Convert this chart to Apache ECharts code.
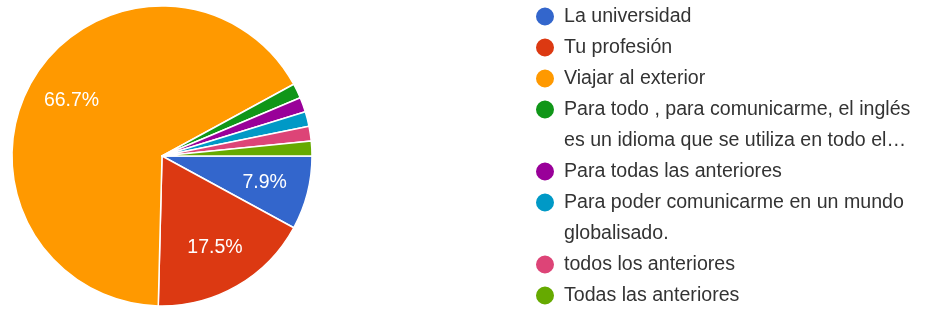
<!DOCTYPE html>
<html>
<head>
<meta charset="utf-8">
<script src="https://cdn.jsdelivr.net/npm/echarts@6/dist/echarts.min.js"></script>
<style>
  html, body { margin: 0; padding: 0; background: #fff; }
  #chart { width: 925px; height: 309px; }
</style>
</head>
<body>
<div id="chart"></div>
<script>
// respuestas (conteos), 63 en total
const categorias = [
  'La universidad',
  'Tu profesión',
  'Viajar al exterior',
  'Para todo , para comunicarme, el inglés\nes un idioma que se utiliza en todo el…',
  'Para todas las anteriores',
  'Para poder comunicarme en un mundo\nglobalisado.',
  'todos los anteriores',
  'Todas las anteriores'
]
const respuestas = [5, 11, 42, 1, 1, 1, 1, 1]
const colores = ['#3366cc', '#dc3912', '#ff9900', '#109618', '#990099', '#0099c6', '#dd4477', '#66aa00']

const chart = echarts.init(document.getElementById('chart'))

const fuente = '"Liberation Sans", Arial, sans-serif'
const lineaAlto = 31

// una leyenda por elemento, para que el circulo quede en la primera linea
let linea = 0
const leyendas = categorias.map((nombre) => {
  const lineas = nombre.split('\n').length
  const centro = 16.5 + linea * lineaAlto
  linea += lineas
  const extra = (lineas - 1) * lineaAlto
  return {
    data: [nombre],
    left: 534,
    top: centro - lineaAlto / 2 - extra,
    padding: 0,
    orient: 'vertical',
    icon: 'circle',
    itemWidth: 20,
    itemHeight: 20,
    selectedMode: false,
    // lineas en blanco arriba para que el texto empiece a la altura del circulo
    formatter: (n) => '\n'.repeat(lineas - 1) + n,
    textStyle: {
      fontFamily: fuente,
      fontSize: 19.6,
      color: '#333',
      lineHeight: lineaAlto,
      padding: [0, 0, 0, 4]
    }
  }
})

const datos = categorias.map((c, i) => ({ name: c, value: respuestas[i], itemStyle: { color: colores[i] } }))
const total = respuestas.reduce((a, b) => a + b, 0)

chart.setOption({
  animation: false,
  legend: leyendas,
  series: [
    {
      type: 'pie',
      center: [162, 156],
      radius: 150,
      startAngle: 0,
      clockwise: true,
      avoidLabelOverlap: false,
      itemStyle: { borderColor: '#fff', borderWidth: 1.5 },
      label: { show: false },
      labelLine: { show: false },
      emphasis: { disabled: true },
      data: datos
    },
    {
      // serie transparente solo para poner los porcentajes a ~70% del radio
      type: 'pie',
      center: [162, 156],
      radius: [56, 150],
      startAngle: 0,
      clockwise: true,
      silent: true,
      avoidLabelOverlap: false,
      itemStyle: { color: 'rgba(0,0,0,0)', borderWidth: 0 },
      labelLine: { show: false },
      label: {
        show: true,
        position: 'inside',
        color: '#fff',
        fontFamily: fuente,
        fontSize: 19.5,
        formatter: (p) => (p.value / total >= 0.05 ? (p.value / total * 100).toFixed(1) + '%' : '')
      },
      emphasis: { disabled: true },
      data: categorias.map((c, i) => ({ name: c, value: respuestas[i] }))
    }
  ]
})
</script>
</body>
</html>
